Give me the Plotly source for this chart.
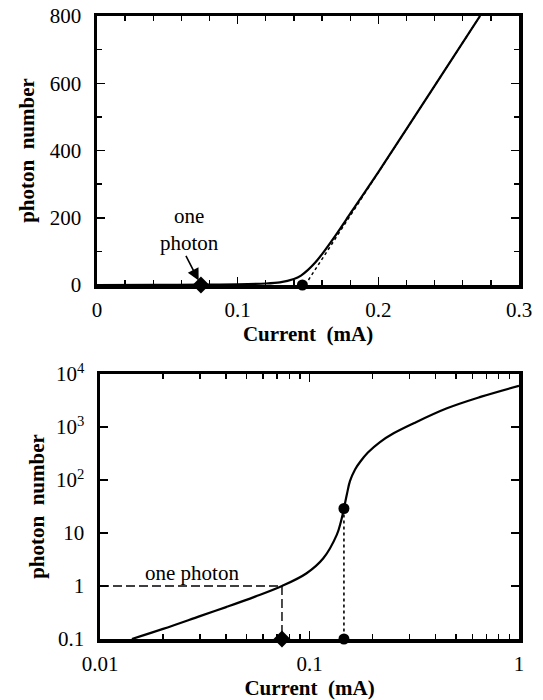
import plotly.graph_objects as go

# ---------------- data ----------------
# top panel (linear axes)
current_lin = [0.0, 0.04, 0.0744, 0.10, 0.12, 0.13, 0.14, 0.145, 0.15, 0.155, 0.16, 0.17, 0.18, 0.20, 0.24, 0.2723]
photons_lin = [0.05, 0.4, 1.0, 2.0, 4.5, 8, 18, 28, 45, 66, 92, 150, 212, 336, 592, 800]
asym_current = [0.148, 0.2723]
asym_photons = [0, 800]

# bottom panel (log axes)
current_log = [0.0142, 0.02, 0.03, 0.04, 0.055, 0.0739, 0.0969, 0.1164, 0.1349, 0.141, 0.146,
               0.151, 0.156, 0.165, 0.1746, 0.19, 0.217, 0.252, 0.314, 0.453, 0.655, 1.0]
photons_log = [0.1, 0.155, 0.27, 0.40, 0.63, 1.0, 1.74, 3.33, 9.2, 16, 29,
               55, 95, 158, 221, 330, 520, 760, 1175, 2256, 3700, 6000]

one_photon_current = 0.0739
threshold_current = 0.146
threshold_photons = 29

lin_x_ticks = [0, 0.1, 0.2, 0.3]
lin_x_labels = ["0", "0.1", "0.2", "0.3"]
lin_x_minor = [0.02, 0.04, 0.06, 0.08, 0.12, 0.14, 0.16, 0.18, 0.22, 0.24, 0.26, 0.28]
lin_y_ticks = [0, 200, 400, 600, 800]
lin_y_labels = ["0", "200", "400", "600", "800"]
lin_y_minor = [100, 300, 500, 700]

log_x_ticks = [0.01, 0.1, 1]
log_x_labels = ["0.01", "0.1", "1"]
log_x_minor = [m * d for d in (0.01, 0.1) for m in range(2, 10)]
log_y_ticks = [0.1, 1, 10, 100, 1000, 10000]
log_y_labels = ["0.1", "1", "10", "10<sup>2</sup>", "10<sup>3</sup>", "10<sup>4</sup>"]

# ---------------- figure ----------------
W, H = 543, 700
FONT = "Liberation Serif, Times New Roman, serif"

fig = go.Figure()

# top panel
fig.add_trace(go.Scatter(x=asym_current, y=asym_photons, mode="lines",
                         line=dict(color="black", width=1.5, dash="3px,3px"),
                         xaxis="x", yaxis="y", hoverinfo="skip"))
fig.add_trace(go.Scatter(x=current_lin, y=photons_lin, mode="lines",
                         line=dict(color="black", width=2.2, shape="spline", smoothing=0.6),
                         xaxis="x", yaxis="y"))
fig.add_trace(go.Scatter(x=[one_photon_current], y=[0], mode="markers",
                         marker=dict(symbol="diamond", size=13, color="black"),
                         cliponaxis=False, xaxis="x", yaxis="y"))
fig.add_trace(go.Scatter(x=[threshold_current], y=[0], mode="markers",
                         marker=dict(symbol="circle", size=11, color="black"),
                         cliponaxis=False, xaxis="x", yaxis="y"))

# bottom panel
fig.add_trace(go.Scatter(x=[0.01, one_photon_current, one_photon_current], y=[1, 1, 0.1],
                         mode="lines", line=dict(color="black", width=1.4, dash="9px,4px"),
                         xaxis="x2", yaxis="y2"))
fig.add_trace(go.Scatter(x=[threshold_current, threshold_current], y=[threshold_photons, 0.1],
                         mode="lines", line=dict(color="black", width=1.6, dash="3px,3px"),
                         xaxis="x2", yaxis="y2"))
fig.add_trace(go.Scatter(x=current_log, y=photons_log, mode="lines",
                         line=dict(color="black", width=2.2, shape="spline", smoothing=1.0),
                         xaxis="x2", yaxis="y2"))
fig.add_trace(go.Scatter(x=[one_photon_current], y=[0.1], mode="markers",
                         marker=dict(symbol="diamond", size=13, color="black"),
                         cliponaxis=False, xaxis="x2", yaxis="y2"))
fig.add_trace(go.Scatter(x=[threshold_current, threshold_current], y=[0.1, threshold_photons],
                         mode="markers", marker=dict(symbol="circle", size=11, color="black"),
                         cliponaxis=False, xaxis="x2", yaxis="y2"))

axis_common = dict(showline=True, linewidth=3.5, linecolor="black", mirror="allticks",
                   ticks="inside", ticklen=8, tickwidth=1.5, tickcolor="black",
                   showgrid=False, zeroline=False, automargin=False,
                   tickfont=dict(family=FONT, size=21, color="black"))
title_font = dict(family=FONT, size=21, color="black")

def px_x(p):
    return p / W

def px_y(p):
    return 1 - p / H

fig.update_layout(
    width=W, height=H, showlegend=False, template="none",
    paper_bgcolor="white", plot_bgcolor="white",
    margin=dict(l=0, r=0, t=0, b=0, autoexpand=False),
    xaxis=dict(axis_common, domain=[px_x(97), px_x(519)], range=[0, 0.3], anchor="y",
               tickvals=lin_x_ticks, ticktext=lin_x_labels, ticklabelstandoff=3,
               minor=dict(tickvals=lin_x_minor, ticks="inside", ticklen=5, tickwidth=1.3, tickcolor="black"),
               title=dict(text="<b>Current\u00a0\u00a0(mA)</b>", font=title_font, standoff=6)),
    yaxis=dict(axis_common, domain=[px_y(285), px_y(16)], range=[0, 800], anchor="x",
               tickvals=lin_y_ticks, ticktext=lin_y_labels, ticklabelstandoff=8,
               minor=dict(tickvals=lin_y_minor, ticks="inside", ticklen=5, tickwidth=1.3, tickcolor="black"),
               title=dict(text="<b>photon\u00a0\u00a0number</b>", font=title_font, standoff=10)),
    xaxis2=dict(axis_common, type="log", domain=[px_x(100), px_x(519)], range=[-2, 0], anchor="y2",
                tickvals=log_x_ticks, ticktext=log_x_labels, ticklabelstandoff=3,
                minor=dict(tickvals=log_x_minor, ticks="inside", ticklen=5, tickwidth=1.3, tickcolor="black"),
                title=dict(text="<b>Current\u00a0\u00a0(mA)</b>", font=title_font, standoff=8)),
    yaxis2=dict(axis_common, type="log", domain=[px_y(639), px_y(374)], range=[-1, 4], anchor="x2",
                tickvals=log_y_ticks, ticktext=log_y_labels, ticklabelstandoff=8,
                title=dict(text="<b>photon\u00a0\u00a0number</b>", font=title_font, standoff=6)),
)

fig.add_annotation(x=one_photon_current, y=0, xref="x", yref="y", text=" ",
                   showarrow=True, ax=-17, ay=-33, arrowhead=2, arrowsize=1.5,
                   arrowwidth=1.6, arrowcolor="black", standoff=5,
                   font=dict(family=FONT, size=4))
fig.add_annotation(x=px_x(189), y=px_y(229), xref="paper", yref="paper",
                   xanchor="center", yanchor="middle",
                   text="one<br>photon", showarrow=False,
                   font=dict(family=FONT, size=21, color="black"))
fig.add_annotation(x=px_x(192), y=px_y(573), xref="paper", yref="paper",
                   xanchor="center", yanchor="middle",
                   text="one photon", showarrow=False,
                   font=dict(family=FONT, size=21, color="black"))

fig.write_html("out.html", config={"displayModeBar": False, "staticPlot": True},
               post_script="document.body.style.margin='0';document.body.style.overflow='hidden';")
